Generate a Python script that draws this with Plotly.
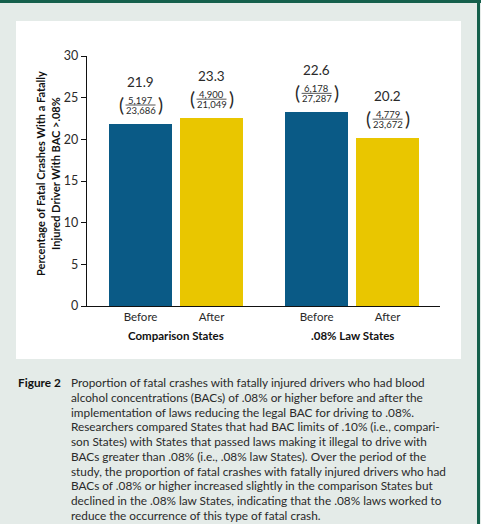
import plotly.graph_objects as go

# ---- data ----
categories = ["Before", "After", "Before", "After"]
groups = ["Comparison States", ".08% Law States"]
bar_heights = [21.9, 22.6, 23.3, 20.2]          # heights as drawn
value_labels = ["21.9", "23.3", "22.6", "20.2"]  # printed labels
numerators = ["5,197", "4,900", "6,178", "4,779"]
denominators = ["23,686", "21,049", "27,287", "23,672"]
y_ticks = [0, 5, 10, 15, 20, 25, 30]
caption_lines = [
    "Proportion of fatal crashes with fatally injured drivers who had blood",
    "alcohol concentrations (BACs) of .08% or higher before and after the",
    "implementation of laws reducing the legal BAC for driving to .08%.",
    "Researchers compared States that had BAC limits of .10% (i.e., compari-",
    "son States) with States that passed laws making it illegal to drive with",
    "BACs greater than .08% (i.e., .08% law States). Over the period of the",
    "study, the proportion of fatal crashes with fatally injured drivers who had",
    "BACs of .08% or higher increased slightly in the comparison States but",
    "declined in the .08% law States, indicating that the .08% laws worked to",
    "reduce the occurrence of this type of fatal crash.",
]

# ---- layout constants ----
W, H = 481, 524
ML, MR, MT, MB = 87, 41, 56, 218
PW, PH = W - ML - MR, H - MT - MB
xpos = [0, 1, 2.48, 3.48]
BLUE, YELLOW = "#0a5a86", "#e9c600"
colors = [BLUE, YELLOW, BLUE, YELLOW]
FONT = "Lato"
TXT = "#2a2a2a"
BG = "#e4ebe8"
GREEN = "#15604c"


def pxx(px):
    return (px - ML) / PW


def pxy(py):
    return (H - MB - py) / PH


fig = go.Figure()
fig.add_trace(go.Bar(x=xpos, y=bar_heights, marker_color=colors,
                     marker_line_width=0, width=0.887, hoverinfo="skip"))

shapes = [
    dict(type="rect", xref="paper", yref="paper", x0=pxx(16), x1=pxx(461),
         y0=pxy(21), y1=pxy(359), fillcolor="white", line_width=0, layer="below"),
    dict(type="rect", xref="paper", yref="paper", x0=pxx(-2), x1=pxx(483),
         y0=pxy(-2), y1=pxy(3), fillcolor=GREEN, line_width=0, layer="below"),
    dict(type="rect", xref="paper", yref="paper", x0=pxx(477), x1=pxx(483),
         y0=pxy(-2), y1=pxy(526), fillcolor=GREEN, line_width=0, layer="below"),
    dict(type="rect", xref="paper", yref="paper", x0=pxx(480), x1=pxx(485),
         y0=pxy(3), y1=pxy(526), fillcolor=BG, line_width=0, layer="below"),
]
annotations = []
for xp, h, lab, num, den in zip(xpos, bar_heights, value_labels, numerators, denominators):
    annotations.append(dict(x=xp, y=h, xref="x", yref="y", text=lab, showarrow=False,
                            yshift=42, font=dict(family=FONT, size=13.5, color=TXT)))
    annotations.append(dict(x=xp, y=h, xref="x", yref="y", text=num, showarrow=False,
                            yshift=23.5, font=dict(family=FONT, size=9.5, color=TXT)))
    annotations.append(dict(x=xp, y=h, xref="x", yref="y", text=den, showarrow=False,
                            yshift=13.5, font=dict(family=FONT, size=9.5, color=TXT)))
    annotations.append(dict(x=xp, y=h, xref="x", yref="y", text="(", showarrow=False,
                            yshift=19.5, xshift=-19.5, font=dict(family=FONT, size=19, color=TXT)))
    annotations.append(dict(x=xp, y=h, xref="x", yref="y", text=")", showarrow=False,
                            yshift=19.5, xshift=19.5, font=dict(family=FONT, size=19, color=TXT)))
    shapes.append(dict(type="line", xref="x", yref="y", xsizemode="pixel", ysizemode="pixel",
                       xanchor=xp, yanchor=h, x0=-15, x1=15, y0=18.5, y1=18.5,
                       line=dict(color=TXT, width=0.8)))

for gi, g in enumerate(groups):
    annotations.append(dict(x=(xpos[2 * gi] + xpos[2 * gi + 1]) / 2, y=pxy(335),
                            xref="x", yref="paper", text="<b>" + g + "</b>", showarrow=False,
                            xanchor="center", yanchor="middle",
                            font=dict(family=FONT, size=11.5, color="#111")))

annotations.append(dict(x=pxx(40), y=pxy(174), xref="paper", yref="paper", textangle=-90,
                        xanchor="center", yanchor="middle",
                        text="<b>Percentage of Fatal Crashes With a Fatally</b>", showarrow=False,
                        font=dict(family=FONT, size=11, color="#111")))
annotations.append(dict(x=pxx(55), y=pxy(174), xref="paper", yref="paper", textangle=-90,
                        xanchor="center", yanchor="middle",
                        text="<b>Injured Driver With BAC >.08%</b>", showarrow=False,
                        font=dict(family=FONT, size=11, color="#111")))

annotations.append(dict(x=pxx(16), y=pxy(382.5), xref="paper", yref="paper", xanchor="left",
                        yanchor="middle", text="<b>Figure 2</b>", showarrow=False,
                        font=dict(family=FONT, size=11.8, color="#111")))
for i, line in enumerate(caption_lines):
    annotations.append(dict(x=pxx(69), y=pxy(382.5 + 14.75 * i), xref="paper", yref="paper",
                            xanchor="left", yanchor="middle", text=line, showarrow=False,
                            font=dict(family=FONT, size=11.8, color=TXT)))

fig.update_layout(
    width=W, height=H, margin=dict(l=ML, r=MR, t=MT, b=MB),
    paper_bgcolor=BG, plot_bgcolor="white", showlegend=False,
    shapes=shapes, annotations=annotations,
    font=dict(family=FONT, color=TXT),
    xaxis=dict(range=[-0.754, 4.218], tickvals=xpos, ticktext=categories,
               showline=True, linecolor="#111", linewidth=1.3, ticks="",
               showgrid=False, zeroline=False, fixedrange=True,
               tickfont=dict(family=FONT, size=11.5, color=TXT)),
    yaxis=dict(range=[0, 30], tickvals=y_ticks, showline=True, linecolor="#111",
               linewidth=1.3, ticks="outside", ticklen=5, tickcolor="#111",
               showgrid=False, zeroline=False, fixedrange=True,
               tickfont=dict(family=FONT, size=12.5, color=TXT)),
    bargap=0,
)
fig.write_html("out.html", config={"displayModeBar": False})
